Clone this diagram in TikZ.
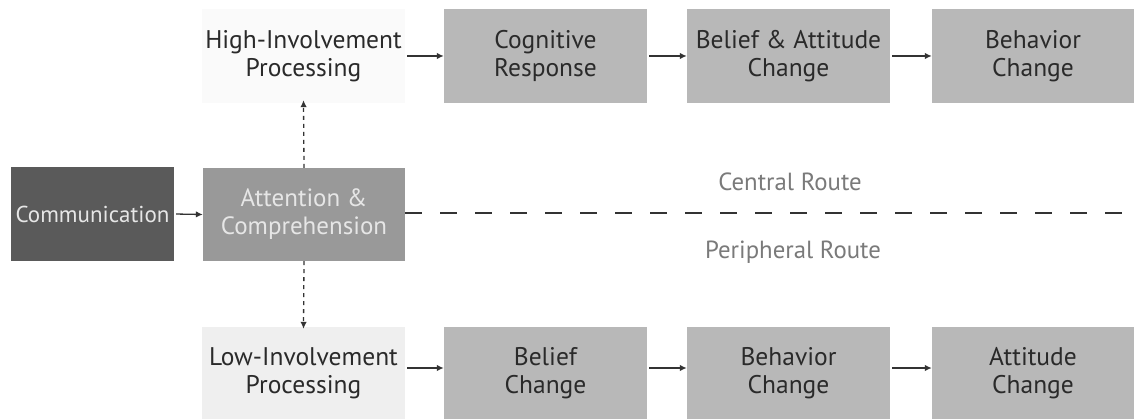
\documentclass[tikz,border=0pt]{standalone}
\usepackage{fontspec}
\setmainfont{PT Sans}
\usetikzlibrary{arrows.meta}
\definecolor{commfill}{HTML}{5A5A5A}
\definecolor{attnfill}{HTML}{999999}
\definecolor{boxfill}{HTML}{B8B8B8}
\definecolor{highfill}{HTML}{FAFAFA}
\definecolor{lowfill}{HTML}{EFEFEF}
\definecolor{darktext}{HTML}{2A2A2A}
\definecolor{lighttext}{HTML}{E6E6E6}
\definecolor{routetext}{HTML}{7A7A7A}
\definecolor{arrowcol}{HTML}{333333}
\begin{document}
\begin{tikzpicture}[x=1pt,y=-1pt,
  base/.style={rectangle, inner sep=0pt, align=center, font=\fontsize{25.5}{28}\selectfont, text=darktext},
  graybox/.style={base, fill=boxfill, minimum width=203pt, minimum height=94pt},
  commbox/.style={base, fill=commfill, text=lighttext, minimum width=163pt, minimum height=94pt, font=\fontsize{23}{28}\selectfont},
  attnbox/.style={base, fill=attnfill, text=lighttext, minimum width=202pt, minimum height=93pt, font=\fontsize{25}{28}\selectfont},
  highbox/.style={base, fill=highfill, minimum width=203pt, minimum height=94pt},
  lowbox/.style={base, fill=lowfill, minimum width=203pt, minimum height=92pt},
  flow/.style={draw=arrowcol, line width=1.3pt, -{Latex[length=7pt,width=6.5pt]}, shorten <=2pt},
  dflow/.style={draw=arrowcol, line width=1.3pt, dash pattern=on 4pt off 4pt, -{Latex[length=7pt,width=6.5pt]}},
  route/.style={font=\fontsize{24.8}{28}\selectfont, text=routetext}
]
\useasboundingbox[fill=white] (0,0) rectangle (1134,419);
% top row
\node[highbox] (high) at (303.5,56) {High-Involvement\\Processing};
\node[graybox] (cog) at (545.5,56) {Cognitive\\Response};
\node[graybox] (bac) at (788.5,56) {Belief \& Attitude\\Change};
\node[graybox, minimum width=202pt] (behtop) at (1033,56) {Behavior\\Change};
% middle row
\node[commbox] (comm) at (92.5,214) {Communication};
\node[attnbox] (attn) at (304,214.5) {Attention \&\\Comprehension};
% bottom row
\node[lowbox] (low) at (303.5,373) {Low-Involvement\\Processing};
\node[graybox, minimum height=92pt] (bel) at (545.5,373) {Belief\\Change};
\node[graybox, minimum height=92pt] (behbot) at (788.5,373) {Behavior\\Change};
\node[graybox, minimum width=202pt, minimum height=92pt] (att) at (1033,373) {Attitude\\Change};
% route labels
\node[route] (central) at (790,182) {Central Route};
\node[route] (periph) at (793,252) {Peripheral Route};
\coordinate (lineend) at (1134,213);
% connectors
\draw[flow] (comm.east) -- (attn.west);
\draw[flow] (high.east) -- (cog.west);
\draw[flow] (cog.east) -- (bac.west);
\draw[flow] (bac.east) -- (behtop.west);
\draw[flow] ([yshift=5pt]low.east) -- ([yshift=5pt]bel.west);
\draw[flow] ([yshift=5pt]bel.east) -- ([yshift=5pt]behbot.west);
\draw[flow] ([yshift=5pt]behbot.east) -- ([yshift=5pt]att.west);
\draw[dflow] (attn.north) -- ([yshift=3pt]high.south);
\draw[dflow] (attn.south) -- ([yshift=-2pt]low.north);
\draw[draw=arrowcol, line width=1.3pt, dash pattern=on 17pt off 18pt] (attn.east |- lineend) -- (lineend);
\end{tikzpicture}
\end{document}
